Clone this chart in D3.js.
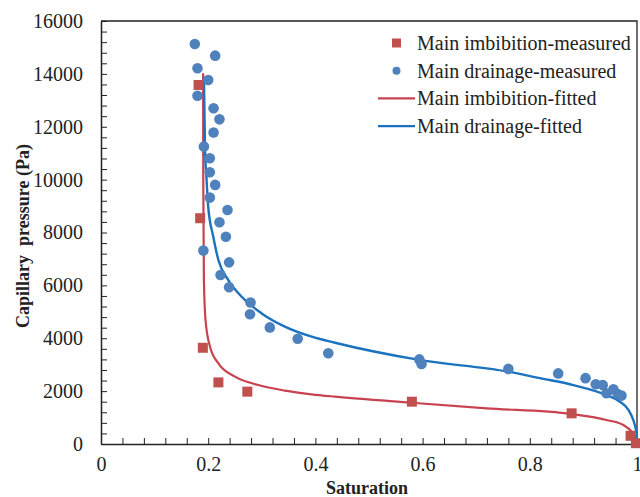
<!DOCTYPE html>
<html>
<head>
<meta charset="utf-8">
<script src="https://cdn.jsdelivr.net/npm/d3@7/dist/d3.min.js"></script>
<style>
  body { margin: 0; background: #fff; }
  svg { display: block; }
  svg text { font-family: "Liberation Serif", "Times New Roman", serif; fill: #222; }
</style>
</head>
<body>
<div id="chart"></div>
<script>
// measured points: [saturation, capillary pressure (Pa)]
var imbibitionMeasured = [
  [0.182, 13580], [0.185, 8540], [0.190, 3640], [0.219, 2330], [0.273, 1980],
  [0.580, 1600], [0.878, 1160], [0.988, 310], [0.998, 30]
];

var drainageMeasured = [
  [0.175, 15130], [0.213, 14690], [0.180, 14210], [0.200, 13770], [0.180, 13170],
  [0.210, 12700], [0.221, 12280], [0.210, 11780], [0.192, 11250], [0.203, 10810],
  [0.203, 10280], [0.213, 9800], [0.203, 9320], [0.236, 8850], [0.221, 8390],
  [0.233, 7840], [0.191, 7320], [0.239, 6870], [0.223, 6390], [0.239, 5930],
  [0.279, 5350], [0.278, 4910], [0.315, 4410], [0.367, 3980], [0.424, 3430],
  [0.594, 3200], [0.598, 3030], [0.760, 2840], [0.853, 2670], [0.904, 2490],
  [0.923, 2260], [0.936, 2230], [0.943, 1920], [0.956, 2070], [0.964, 1890],
  [0.971, 1830]
];

// fitted curves
var imbibitionFitted = [
  [0.1905, 14020], [0.1908, 9990], [0.192, 6200], [0.195, 4690], [0.2034, 3680],
  [0.219, 3050], [0.250, 2550], [0.2935, 2230], [0.343, 2020], [0.393, 1880],
  [0.4366, 1790], [0.580, 1560], [0.7196, 1350], [0.878, 1135], [0.943, 910],
  [0.9745, 720], [0.990, 465], [0.9994, 150], [1.0, 0]
];

var drainageFitted = [
  [0.192, 13890], [0.194, 11250], [0.197, 9990], [0.200, 8980], [0.2095, 7840],
  [0.219, 6960], [0.2375, 6200], [0.2625, 5570], [0.2998, 4940], [0.343, 4440],
  [0.393, 4060], [0.4366, 3830], [0.594, 3180], [0.760, 2735], [0.819, 2490],
  [0.881, 2230], [0.943, 1850], [0.968, 1600], [0.984, 1290], [0.993, 910],
  [0.999, 400], [1.0, 0]
];

var xTicks = [0, 0.2, 0.4, 0.6, 0.8, 1];
var yTicks = [0, 2000, 4000, 6000, 8000, 10000, 12000, 14000, 16000];

var legendLabels = [
  "Main imbibition-measured",
  "Main drainage-measured",
  "Main imbibition-fitted",
  "Main drainage-fitted"
];

var red = "#C0504D", blue = "#4F81BD";
var redLine = "#C8434F", blueLine = "#1B72BE";
var serif = "'Liberation Serif', 'Times New Roman', serif";

var W = 640, H = 497;
var margin = { top: 21, right: 3, bottom: 53, left: 101 };
var w = W - margin.left - margin.right;
var h = H - margin.top - margin.bottom;

var svg = d3.select("#chart").append("svg")
  .attr("width", W)
  .attr("height", H);

var g = svg.append("g")
  .attr("transform", "translate(" + [margin.left, margin.top] + ")");

var x = d3.scaleLinear().domain([0, 1]).range([0, w]);
var y = d3.scaleLinear().domain([0, 16000]).range([h, 0]);

// frame (top + right)
g.append("path")
  .attr("d", "M0,0H" + w + "V" + h)
  .attr("fill", "none")
  .attr("stroke", "#222")
  .attr("stroke-width", 1.3);

// minor ticks (inside)
var yMinor = d3.range(0, 16001, 400);
var xMinor = d3.range(0, 1.0001, 0.04);

g.append("g")
  .attr("transform", "translate(0," + h + ")")
  .call(d3.axisBottom(x).tickValues(xMinor).tickSize(-6).tickFormat(""))
  .call(function (s) { s.select(".domain").remove(); })
  .selectAll("line").attr("stroke", "#222");

g.append("g")
  .call(d3.axisLeft(y).tickValues(yMinor).tickSize(-6).tickFormat(""))
  .call(function (s) { s.select(".domain").remove(); })
  .selectAll("line").attr("stroke", "#222");

// main axes
var xAxis = g.append("g")
  .attr("transform", "translate(0," + h + ")")
  .call(d3.axisBottom(x).tickValues(xTicks).tickSize(0).tickPadding(13)
    .tickFormat(function (d) { return d === 0 || d === 1 ? d : d3.format(".1f")(d); }))
  .attr("font-size", 20);
xAxis.select(".domain").attr("stroke", "#222").attr("stroke-width", 1.5);
xAxis.selectAll("text").attr("fill", "#222").style("font-family", serif);

var yAxis = g.append("g")
  .call(d3.axisLeft(y).tickValues(yTicks).tickSize(0).tickPadding(18)
    .tickFormat(d3.format("d")))
  .attr("font-size", 20);
yAxis.select(".domain").attr("stroke", "#222").attr("stroke-width", 1.5);
yAxis.selectAll("text").attr("fill", "#222").style("font-family", serif);

// axis titles
svg.append("text")
  .attr("x", margin.left + w / 2 - 2)
  .attr("y", 494)
  .attr("text-anchor", "middle")
  .style("font-size", "18px")
  .style("font-weight", "bold")
  .text("Saturation");

svg.append("text")
  .attr("transform", "translate(29," + 236 + ") rotate(-90)")
  .attr("text-anchor", "middle")
  .style("font-size", "18px")
  .style("font-weight", "bold")
  .text("Capillary\u00a0 pressure (Pa)");

// fitted lines
var line = d3.line()
  .x(function (d) { return x(d[0]); })
  .y(function (d) { return y(d[1]); })
  .curve(d3.curveMonotoneX);

g.append("path")
  .datum(imbibitionFitted)
  .attr("d", line)
  .attr("fill", "none")
  .attr("stroke", redLine)
  .attr("stroke-width", 2.2);

g.append("path")
  .datum(drainageFitted)
  .attr("d", line)
  .attr("fill", "none")
  .attr("stroke", blueLine)
  .attr("stroke-width", 2.4);

// measured points
g.selectAll(".drain")
  .data(drainageMeasured)
  .enter().append("circle")
  .attr("class", "drain")
  .attr("cx", function (d) { return x(d[0]); })
  .attr("cy", function (d) { return y(d[1]); })
  .attr("r", 5.3)
  .attr("fill", blue);

var sq = 10;
g.selectAll(".imb")
  .data(imbibitionMeasured)
  .enter().append("rect")
  .attr("class", "imb")
  .attr("x", function (d) { return x(d[0]) - sq / 2; })
  .attr("y", function (d) { return y(d[1]) - sq / 2; })
  .attr("width", sq)
  .attr("height", sq)
  .attr("fill", red);

// legend
var legend = svg.append("g").attr("transform", "translate(378,43)");
var rowH = 27.7;

legend.selectAll("text")
  .data(legendLabels)
  .enter().append("text")
  .attr("x", 39)
  .attr("y", function (d, i) { return i * rowH; })
  .attr("dy", "0.35em")
  .style("font-size", "20px")
  .text(function (d) { return d; });

legend.append("rect")
  .attr("x", 14).attr("y", -4.5)
  .attr("width", 9).attr("height", 9)
  .attr("fill", red);

legend.append("circle")
  .attr("cx", 18.5).attr("cy", rowH)
  .attr("r", 4)
  .attr("fill", blue);

legend.append("line")
  .attr("x1", 0).attr("x2", 37)
  .attr("y1", 2 * rowH).attr("y2", 2 * rowH)
  .attr("stroke", redLine).attr("stroke-width", 2.2);

legend.append("line")
  .attr("x1", 0).attr("x2", 37)
  .attr("y1", 3 * rowH).attr("y2", 3 * rowH)
  .attr("stroke", blueLine).attr("stroke-width", 2.4);
</script>
</body>
</html>
